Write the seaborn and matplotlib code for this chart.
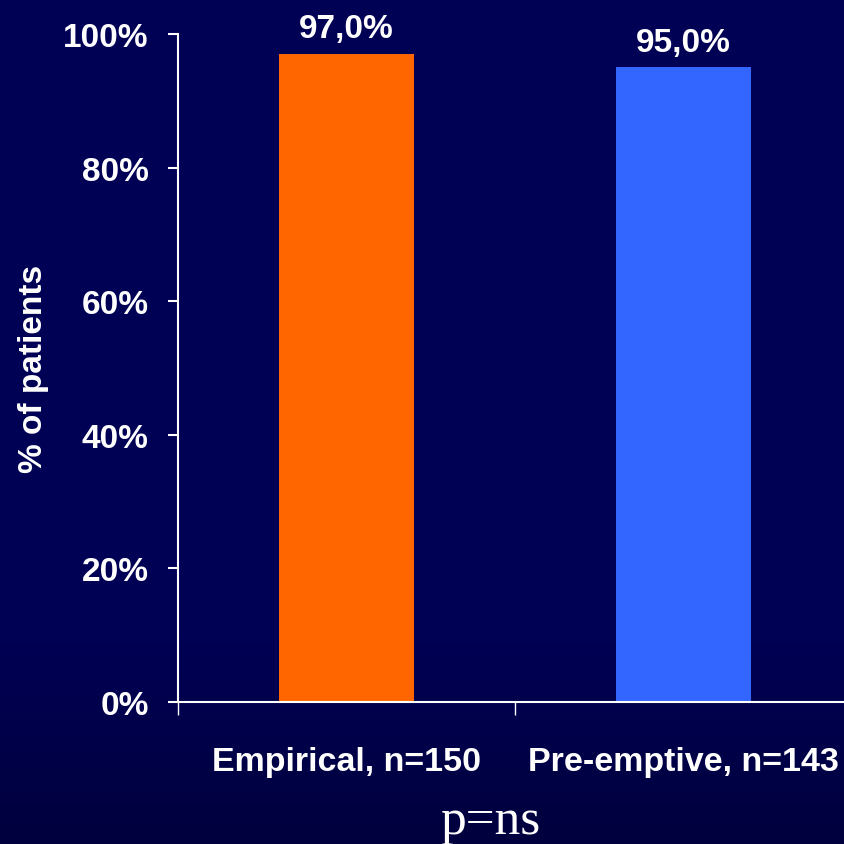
import numpy as np
import pandas as pd
import matplotlib
matplotlib.use("Agg")
import matplotlib.pyplot as plt
import seaborn as sns

categories = ["Empirical, n=150", "Pre-emptive, n=143"]
values = [97.0, 95.0]
value_labels = ["97,0%", "95,0%"]
colors = ["#FF6600", "#3366FF"]
ytick_vals = [0, 20, 40, 60, 80, 100]
ytick_labels = ["0%", "20%", "40%", "60%", "80%", "100%"]
footnote = "p=ns"

sns.set_theme(style="white")
plt.rcParams["font.family"] = ["Liberation Sans", "DejaVu Sans"]

W, H = 844, 845
fig = plt.figure(figsize=(W / 100, H / 100), dpi=100)
bg_top = "#00004F"
fig.patch.set_facecolor(bg_top)

# background gradient
bgax = fig.add_axes([0, 0, 1, 1], zorder=-10)
n = 256
yy = np.linspace(0, 1, n)  # 0 bottom, 1 top
top = np.array([0, 0, 0x55]) / 255
bot = np.array([0, 0, 0x3E]) / 255
t = np.clip((0.25 - yy) / 0.25, 0, 1)[:, None]
grad = top * (1 - t) + bot * t
img = np.repeat(grad[:, None, :], 2, axis=1)
bgax.imshow(img, aspect="auto", origin="lower", extent=[0, 1, 0, 1])
bgax.axis("off")

ax = fig.add_axes([178 / W, (H - 703) / H, (852 - 178) / W, (703 - 35) / H])
ax.set_facecolor("none")

df = pd.DataFrame({"cat": categories, "val": values})
sns.barplot(data=df, x="cat", y="val", hue="cat", palette=colors, width=0.4,
            legend=False, ax=ax, saturation=1, linewidth=0)

ax.set_xlim(-0.5, 1.5)
ax.set_ylim(0, 100)
ax.set_yticks(ytick_vals)
ax.set_yticklabels(ytick_labels)
ax.tick_params(axis="y", which="major", direction="out", length=7, width=1.5,
               color="white", left=True, pad=14, labelsize=24, labelcolor="white")
for lab in ax.get_yticklabels():
    lab.set_fontweight("bold")

ax.set_xticks([0, 1])
ax.set_xticklabels(categories)
ax.set_xticks([-0.5, 0.5, 1.5], minor=True)
ax.tick_params(axis="x", which="major", length=0, pad=32, labelsize=24.5,
               labelcolor="white")
ax.tick_params(axis="x", which="minor", direction="out", length=9, width=1,
               color="white", bottom=True)
for lab in ax.get_xticklabels():
    lab.set_fontweight("bold")

ax.set_xlabel("")
ax.set_ylabel("% of patients", color="white", fontsize=24, fontweight="bold",
              labelpad=10)

for s in ["top", "right"]:
    ax.spines[s].set_visible(False)
for s in ["left", "bottom"]:
    ax.spines[s].set_color("white")
    ax.spines[s].set_linewidth(1.5)

for i, (v, lab) in enumerate(zip(values, value_labels)):
    ax.annotate(lab, (i, v), xytext=(0, 7), textcoords="offset points",
                ha="center", va="bottom", color="white", fontsize=24,
                fontweight="bold")

fig.text(490 / W, 1 - 822 / H, footnote, ha="center", va="center",
         color="white", fontsize=37, family=["Liberation Serif", "DejaVu Serif"])

fig.savefig("out.png", dpi=100, facecolor=fig.get_facecolor())
